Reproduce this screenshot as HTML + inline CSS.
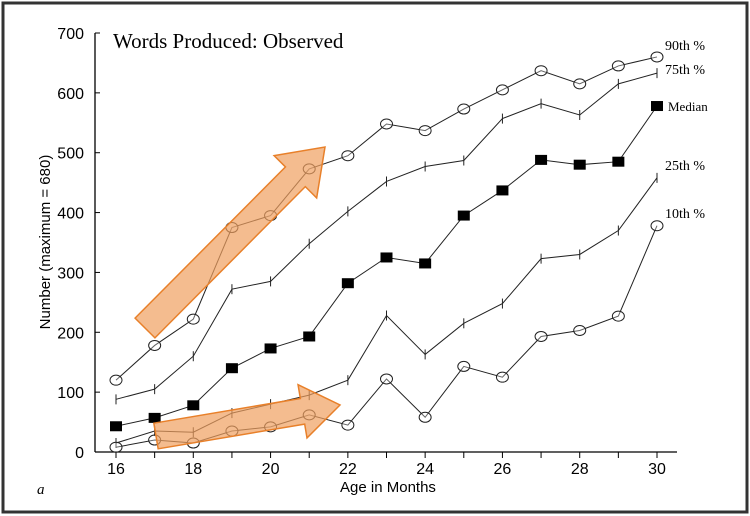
<!DOCTYPE html>
<html><head><meta charset="utf-8"><style>
body{margin:0;background:#fff;}
svg{display:block;}
</style></head><body>
<svg width="750" height="516" id="chart">
<rect x="3" y="3" width="744" height="509" fill="#fff" stroke="#333" stroke-width="3"/>
<text x="113" y="48" font-family="Liberation Serif, serif" font-size="21">Words Produced: Observed</text>
<text x="388" y="492" text-anchor="middle" font-family="Liberation Sans, sans-serif" font-size="15">Age in Months</text>
<text transform="translate(50,242) rotate(-90)" text-anchor="middle" font-family="Liberation Sans, sans-serif" font-size="15">Number (maximum = 680)</text>
<text x="37" y="494" font-family="Liberation Serif, serif" font-style="italic" font-size="15">a</text>
<g id="axes"></g>
<g id="series"></g>
<g id="arrows"></g>
</svg>
<script>
const months=[16,17,18,19,20,21,22,23,24,25,26,27,28,29,30];
const p90=[120,178,222,375,395,473,495,548,537,573,605,637,615,645,660];
const p75=[88,105,160,272,285,348,402,452,477,487,557,582,563,615,633];
const median=[43,57,78,140,173,193,282,325,315,395,437,488,480,485,578];
const p25=[15,35,33,65,80,95,120,228,163,215,248,323,330,370,458];
const p10=[8,20,15,35,42,62,45,122,58,143,125,193,203,227,378];
const yTicks=[0,100,200,300,400,500,600,700];
const xTicks=[16,18,20,22,24,26,28,30];
const NS='http://www.w3.org/2000/svg';
const X=m=>116+(m-16)*(657-116)/14;
const Y=v=>452-v*(452-33)/700;
function mk(tag,attrs,parent){const e=document.createElementNS(NS,tag);for(const k in attrs)e.setAttribute(k,attrs[k]);parent.appendChild(e);return e;}
const axes=document.getElementById('axes');
let a=mk('line',{x1:95,y1:33,x2:95,y2:452,stroke:'#000','stroke-width':1.3},axes);


a=mk('line',{x1:95,y1:452,x2:677,y2:452,stroke:'#000','stroke-width':1.3},axes);


yTicks.forEach(v=>{
 mk('line',{x1:95,y1:Y(v),x2:100,y2:Y(v),stroke:'#000'},axes);
 const t=mk('text',{x:84,y:Y(v)+6,'text-anchor':'end','font-family':'Liberation Sans, sans-serif','font-size':16},axes);
 t.textContent=v;
 
 
});
months.forEach(m=>mk('line',{x1:X(m),y1:452,x2:X(m),y2:458,stroke:'#000'},axes));
xTicks.forEach(m=>{
 const t=mk('text',{x:X(m),y:474,'text-anchor':'middle','font-family':'Liberation Sans, sans-serif','font-size':16},axes);
 t.textContent=m;
 
 
});
const sg=document.getElementById('series');
function series(vals,marker,name,label,ly){
 const g=mk('g',{},sg);
 
 
 mk('polyline',{points:vals.map((v,i)=>X(months[i])+','+Y(v)).join(' '),fill:'none',stroke:'#222','stroke-width':1},g);
 vals.forEach((v,i)=>{
  const x=X(months[i]),y=Y(v);
  if(marker==='circle')mk('ellipse',{cx:x,cy:y,rx:6,ry:5,fill:'#fff','fill-opacity':0.3,stroke:'#222','stroke-width':1},g);
  else if(marker==='square')mk('rect',{x:x-6,y:y-5,width:12,height:10,fill:'#000'},g);
  else mk('line',{x1:x,y1:y-5,x2:x,y2:y+5,stroke:'#222'},g);
 });
 const t=mk('text',{x:marker==='square'?668:665,y:ly,'font-family':'Liberation Serif, serif','font-size':marker==='square'?13:14},g);
 t.textContent=label;
 
 
}
series(p90,'circle','series-90th','90th %',50);
series(p75,'tick','series-75th','75th %',74);
series(median,'square','series-median','Median',111);
series(p25,'tick','series-25th','25th %',170);
series(p10,'circle','series-10th','10th %',218);
const ag=document.getElementById('arrows');
function arrow(x1,y1,x2,y2,w,hw,hl,name){
 const dx=x2-x1,dy=y2-y1,L=Math.hypot(dx,dy),ux=dx/L,uy=dy/L,nx=-uy,ny=ux;
 const bx=x2-ux*hl,by=y2-uy*hl;
 const pts=[[x1+nx*w,y1+ny*w],[bx+nx*w,by+ny*w],[bx+nx*hw,by+ny*hw],[x2,y2],[bx-nx*hw,by-ny*hw],[bx-nx*w,by-ny*w],[x1-nx*w,y1-ny*w]];
 const p=mk('polygon',{points:pts.map(q=>q.join(',')).join(' '),fill:'#f0a060','fill-opacity':0.7,stroke:'#e8802a','stroke-width':1.5},ag);
 
 
}
arrow(145,328,325,147,14,30,42,'highlight-arrow-upper');
arrow(156,436,340,405,13,27,38,'highlight-arrow-lower');
</script>
</body></html>
